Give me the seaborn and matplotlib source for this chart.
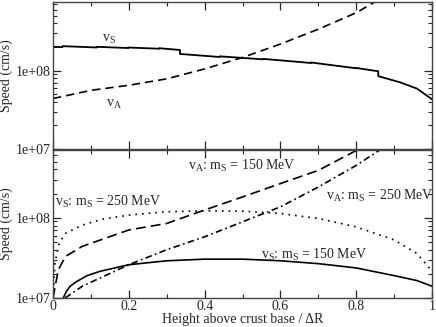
import numpy as np
import pandas as pd
import matplotlib
matplotlib.use("Agg")
import matplotlib.pyplot as plt
import seaborn as sns
from matplotlib.ticker import LogLocator, MultipleLocator, NullFormatter

# top panel: single model
top_vs_x = [0.0, 0.025, 0.025, 0.115, 0.115, 0.198, 0.198, 0.28, 0.28, 0.335, 0.335,
            0.44, 0.44, 0.555, 0.555, 0.68, 0.68, 0.80, 0.80, 0.858, 0.858, 0.915, 0.96, 1.0]
top_vs_y = [2.01e8, 1.99e8, 2.05e8, 1.97e8, 2.01e8, 1.94e8, 1.97e8, 1.90e8, 1.93e8, 1.83e8, 1.63e8,
            1.49e8, 1.52e8, 1.39e8, 1.41e8, 1.25e8, 1.27e8, 1.07e8, 1.08e8, 9.8e7, 8.5e7, 7.1e7, 5.9e7, 4.3e7]
top_va_x = [0.0, 0.1, 0.2, 0.3, 0.4, 0.5, 0.6, 0.7, 0.8, 0.853]
top_va_y = [4.4e7, 5.6e7, 6.5e7, 7.85e7, 1.05e8, 1.47e8, 2.18e8, 3.37e8, 5.47e8, 7.7e8]

# bottom panel: two strange-quark masses
vs150_x = [0.027, 0.035, 0.045, 0.062, 0.09, 0.124, 0.2, 0.3, 0.4, 0.5, 0.6, 0.7, 0.8, 0.9, 0.96, 1.0]
vs150_y = [1.0e7, 1.2e7, 1.4e7, 1.6e7, 1.9e7, 2.15e7, 2.6e7, 2.91e7, 3.05e7, 3.05e7, 2.91e7, 2.68e7,
           2.37e7, 1.9e7, 1.65e7, 1.4e7]
vs250_x = [0.0, 0.005, 0.016, 0.033, 0.077, 0.13, 0.2, 0.3, 0.4, 0.5, 0.6, 0.7, 0.8, 0.9, 0.96, 1.0]
vs250_y = [1.0e7, 2.73e7, 4.8e7, 6.4e7, 8.1e7, 9.6e7, 1.08e8, 1.19e8, 1.22e8, 1.21e8, 1.13e8, 9.8e7,
           7.7e7, 5.3e7, 3.6e7, 2.15e7]
va150_x = [0.0, 0.014, 0.033, 0.077, 0.2, 0.3, 0.4, 0.5, 0.6, 0.7, 0.8]
va150_y = [1.0e7, 2.25e7, 3.3e7, 4.4e7, 7.05e7, 8.5e7, 1.25e8, 1.82e8, 2.67e8, 3.9e8, 6.9e8]
va250_x = [0.032, 0.077, 0.2, 0.3, 0.4, 0.5, 0.6, 0.7, 0.8, 0.86]
va250_y = [1.0e7, 1.4e7, 2.6e7, 4.0e7, 5.8e7, 8.9e7, 1.37e8, 2.42e8, 4.5e8, 6.9e8]

sns.set_style("ticks")
plt.rcParams["font.family"] = ["Liberation Serif", "DejaVu Serif"]
plt.rcParams["mathtext.default"] = "regular"
plt.rcParams["font.size"] = 10

fig = plt.figure(figsize=(4.36, 3.27), dpi=100)
ax1 = fig.add_axes([0.1216, 0.5443, 0.8694, 0.4497])
ax2 = fig.add_axes([0.1216, 0.0887, 0.8694, 0.4526])

top = pd.concat([
    pd.DataFrame({"x": top_vs_x, "v": top_vs_y, "s": "vs"}),
    pd.DataFrame({"x": top_va_x, "v": top_va_y, "s": "va"}),
])
sns.lineplot(data=top[top.s == "vs"], x="x", y="v", ax=ax1, color="black", lw=1.3,
             estimator=None, sort=False)
sns.lineplot(data=top[top.s == "va"], x="x", y="v", ax=ax1, color="black", lw=1.2,
             estimator=None, sort=False, linestyle=(0, (5, 3)))

bot = {
    "vs150": (vs150_x, vs150_y, "-"),
    "vs250": (vs250_x, vs250_y, (0, (1, 3))),
    "va150": (va150_x, va150_y, (0, (6, 3))),
    "va250": (va250_x, va250_y, (0, (4, 2, 1, 2))),
}
for name, (xs, ys, ls) in bot.items():
    df = pd.DataFrame({"x": xs, "v": ys})
    sns.lineplot(data=df, x="x", y="v", ax=ax2, color="black", lw=1.2,
                 estimator=None, sort=False, linestyle=ls)

for ax in (ax1, ax2):
    ax.set_yscale("log")
    ax.set_xlim(0, 1)
    ax.set_ylim(1e7, 7e8)
    ax.xaxis.set_major_locator(MultipleLocator(0.2))
    ax.xaxis.set_minor_locator(MultipleLocator(0.1))
    ax.yaxis.set_minor_locator(LogLocator(base=10, subs=np.arange(2, 10), numticks=12))
    ax.yaxis.set_minor_formatter(NullFormatter())
    ax.set_yticks([1e7, 1e8])
    ax.set_yticklabels(["1e+07", "1e+08"])
    ax.tick_params(which="both", direction="in", top=True, right=True, labelsize=10, pad=1.5)
    ax.tick_params(which="major", length=6, width=0.9)
    ax.tick_params(which="minor", length=3, width=0.8)
    for sp in ax.spines.values():
        sp.set_linewidth(1.0)
        sp.set_color("#444444")
    ax.set_ylabel("Speed (cm/s)", fontsize=10, labelpad=2)

ax1.set_ylim(1e7, 7.5e8)
ax1.set_xlabel("")
ax1.tick_params(labelbottom=False)
ax2.set_xticks([0, 0.2, 0.4, 0.6, 0.8, 1.0])
ax2.set_xticklabels(["0", "0.2", "0.4", "0.6", "0.8", "1"])
ax2.set_xlabel("Height above crust base / \u0394R", fontsize=10, labelpad=0)

ax1.text(0.13, 2.3e8, "v$_S$", fontsize=10)
ax1.text(0.14, 3.4e7, "v$_A$", fontsize=10)
ax2.text(0.355, 3.9e8, "v$_A$: m$_S$ = 150 MeV", fontsize=10)
ax2.text(0.005, 1.4e8, "v$_S$: m$_S$ = 250 MeV", fontsize=10)
ax2.text(0.72, 1.65e8, "v$_A$: m$_S$ = 250 MeV", fontsize=10)
ax2.text(0.55, 3.1e7, "v$_S$: m$_S$ = 150 MeV", fontsize=10)

fig.savefig("out.png", dpi=100)
